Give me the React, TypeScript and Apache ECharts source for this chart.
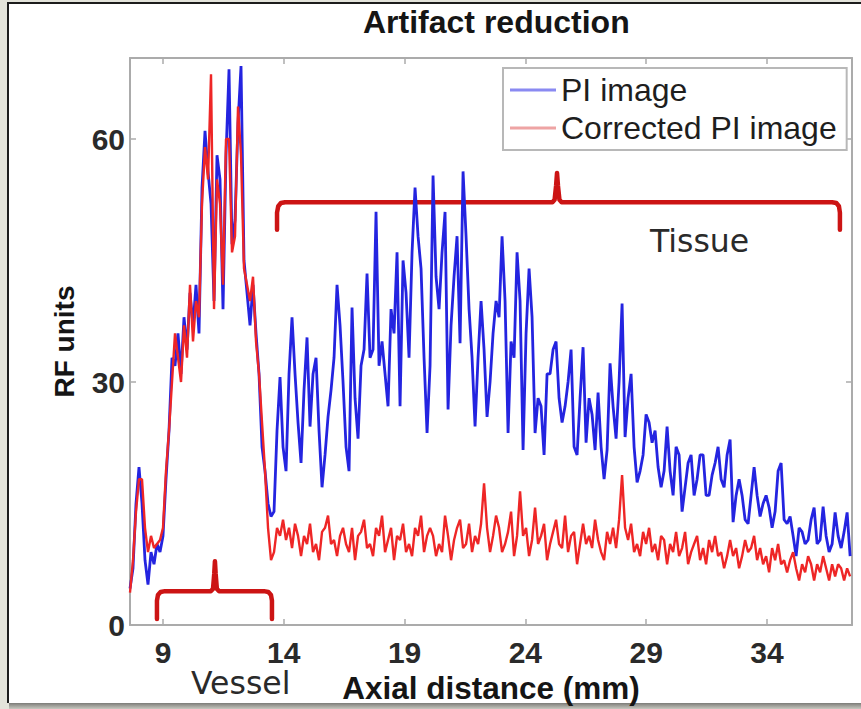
import React, { useEffect, useRef } from "react";
import * as echarts from "echarts";

const TITLE = "Artifact reduction";
const X_NAME = "Axial distance (mm)";
const Y_NAME = "RF units";
const SERIES_NAMES = ["PI image", "Corrected PI image"];
const X_TICKS = [9, 14, 19, 24, 29, 34];
const Y_TICKS = [0, 30, 60];
const X_MIN = 7.634;
const X_MAX = 37.52;
const Y_MIN = 0;
const Y_MAX = 70;

// uniform axial sampling of the traces (mm)
const SAMPLE_START_MM = 7.634;
const SAMPLE_STEP_MM = 0.1242;

const PI_IMAGE = [
  4.5, 7, 15, 19.5, 15, 8, 5, 9, 7.5, 10,
  9, 11, 18, 24, 33, 32, 36, 31, 38, 34,
  41, 37, 42, 36, 54, 61, 56, 52, 40, 58,
  55, 39, 58, 68.6, 47, 50, 62, 69, 45, 41,
  37, 42, 36, 31, 22, 19, 15, 13.4, 14, 24,
  30.6, 22, 19, 31, 38, 31, 25, 20, 29, 35.5,
  24.5, 31, 33, 24, 17, 21, 25.7, 29, 33, 42,
  37, 30, 22, 19, 39.2, 28, 23, 32, 34, 43.4,
  33, 34, 51, 32, 35, 31, 27, 39, 36, 46,
  27, 45, 41, 33, 46, 54, 48, 44, 33, 23.7,
  32, 55.5, 43, 39, 46, 51, 26.6, 37, 43, 48,
  34.8, 56, 48, 39, 33, 24.5, 33, 40, 34, 25.7,
  30, 36, 40, 38, 48, 40, 23.7, 35, 33, 46,
  40, 21.6, 36, 44, 38, 23.7, 28, 27, 21, 31,
  31, 34, 35, 28, 25, 27, 30, 34, 22, 21,
  28, 34.3, 22.5, 28, 26, 21.6, 28.7, 22, 18, 21.6,
  32.3, 27, 23, 30, 39.7, 23.2, 28, 31, 22, 17.6,
  19, 21, 26, 25, 22.5, 24, 19.5, 17, 19, 24.5,
  19, 16, 22, 21, 14, 17, 20, 21, 16, 18,
  21, 21, 16, 16, 18.5, 20, 22, 18, 17, 21,
  22.9, 12.7, 16, 18, 16, 13, 12.5, 16, 19.5, 16,
  13.4, 15, 16, 14.5, 12, 14, 19, 20, 13, 12.5,
  13.4, 11, 8.5, 12, 11.5, 10, 10.5, 13, 14.5, 10,
  10.5, 14.6, 11, 9, 10, 13.9, 11, 9.5, 11.5, 13.9, 8.5,
];

const CORRECTED_PI_IMAGE = [
  4, 8, 14, 18, 18, 12, 9, 11, 9.5, 10,
  10.5, 12, 19, 24, 30, 36, 33, 30, 37, 33,
  42, 35, 40, 38, 52, 59, 55, 68, 39, 55,
  52, 42, 60, 60, 46, 48, 64, 58, 44, 42,
  40, 43, 35, 31, 25, 19, 12, 8, 9, 12,
  11, 13, 10.5, 12, 9.5, 12.5, 11, 8.5, 11, 10,
  12.5, 9, 10, 8, 11.5, 12, 13.5, 10, 10.5, 8.5,
  11, 12, 10, 9, 12, 8, 11, 11.5, 13, 9.5,
  10, 8.5, 12, 11, 13.5, 9, 10.5, 12, 8, 11,
  10.5, 12.5, 9, 10, 8.5, 12, 11, 13.5, 9, 11,
  12, 11, 8.5, 10, 9, 13.5, 11, 8, 10.5, 12,
  13, 9.5, 10, 12.5, 9, 11, 10, 12.5, 17.5, 12,
  9, 11, 13.5, 12, 9, 10, 11.5, 14, 8.5, 11,
  16.5, 11, 12, 8.5, 10.5, 14.5, 10, 11, 12.5, 8,
  10, 11.5, 13, 10, 9.5, 13.5, 9, 11, 11.5, 7.5,
  10, 12.5, 10, 11, 9.5, 13, 10.5, 9, 8, 11.5,
  10, 12, 9.5, 13, 18.5, 12, 10.5, 12.5, 9, 10,
  8.5, 11.5, 10, 12, 9, 10, 8, 11, 10.5, 7.5,
  10, 9, 11.5, 8.5, 9.5, 11.5, 7.5, 9, 10, 11,
  8, 9.5, 7.5, 10.5, 9, 11, 8.5, 9, 7, 8.5,
  10.5, 8.5, 9.5, 7, 8.5, 10.5, 9, 9.5, 11, 8,
  9.5, 7.5, 8.5, 6.5, 9.5, 8, 10, 7.5, 8, 6.5,
  8, 9, 7, 5.5, 7.5, 6.5, 8.5, 7.5, 5.5, 7.5,
  6.5, 8.5, 7, 5.5, 7.5, 6, 7.5, 7, 5.5, 7, 6,
];

// annotation braces, in axis units [mm, RF units]
const VESSEL_BRACE = [
  [8.75, 0.74], [8.75, 3.0], [8.79, 3.7], [8.9, 4.08], [9.08, 4.18],
  [10.98, 4.18], [11.07, 4.45], [11.12, 6.3], [11.15, 7.87], [11.18, 6.3],
  [11.23, 4.45], [11.32, 4.18], [13.18, 4.18], [13.36, 4.08], [13.47, 3.7],
  [13.51, 3.0], [13.51, 0.74],
];
const TISSUE_BRACE = [
  [13.72, 48.8], [13.72, 50.9], [13.77, 51.7], [13.88, 52.1], [14.05, 52.2],
  [25.12, 52.2], [25.21, 52.5], [25.27, 54.2], [25.31, 55.8], [25.35, 54.2],
  [25.41, 52.5], [25.5, 52.2], [36.7, 52.2], [36.87, 52.1], [36.98, 51.7],
  [37.02, 50.9], [37.02, 48.8],
];
const VESSEL_LABEL = "Vessel";
const TISSUE_LABEL = "Tissue";

const SANS = "'Liberation Sans', Arial, Helvetica, sans-serif";
const HUMANIST = "'DejaVu Sans', Verdana, sans-serif";

function toPairs(values: number[]) {
  return values.map((v, i) => [SAMPLE_START_MM + i * SAMPLE_STEP_MM, v]);
}

export default function App() {
  const ref = useRef<HTMLDivElement>(null);

  useEffect(() => {
    if (!ref.current) return;
    const chart = echarts.init(ref.current, undefined, { renderer: "svg" });
    const axisGray = "#ababab";
    const baseX = {
      type: "value" as const,
      min: X_MIN,
      max: X_MAX,
      splitLine: { show: false },
      axisLine: { show: true, onZero: false, lineStyle: { color: axisGray, width: 2 } },
      axisTick: { show: true, inside: true, length: 6, customValues: X_TICKS, lineStyle: { color: axisGray, width: 1.5 } },
    };
    const baseY = {
      type: "value" as const,
      min: Y_MIN,
      max: Y_MAX,
      splitLine: { show: false },
      axisLine: { show: true, onZero: false, lineStyle: { color: axisGray, width: 2 } },
      axisTick: { show: true, inside: true, length: 6, customValues: Y_TICKS, lineStyle: { color: axisGray, width: 1.5 } },
    };
    chart.setOption({
      animation: false,
      backgroundColor: "transparent",
      title: {
        text: TITLE,
        left: 358,
        top: 1,
        textStyle: { fontFamily: SANS, fontWeight: "bold", fontSize: 32, color: "#151515" },
      },
      legend: {
        left: 503,
        top: 68,
        orient: "vertical",
        icon: "rect",
        itemWidth: 46,
        itemHeight: 3,
        itemGap: 6,
        padding: [6, 10, 6, 7],
        borderColor: "#b8b8b8",
        borderWidth: 2,
        backgroundColor: "#ffffff",
        textStyle: { fontFamily: SANS, fontSize: 32, color: "#1e1e1e" },
        data: [
          { name: SERIES_NAMES[0], itemStyle: { color: "#8a8af2" } },
          { name: SERIES_NAMES[1], itemStyle: { color: "#eea4a4" } },
        ],
      },
      grid: { left: 130, top: 58, width: 722, height: 567 },
      xAxis: [
        {
          ...baseX,
          position: "bottom",
          name: X_NAME,
          nameLocation: "middle",
          nameGap: 42,
          nameTextStyle: { fontFamily: SANS, fontWeight: "bold", fontSize: 31.5, color: "#151515" },
          axisLabel: {
            customValues: X_TICKS,
            margin: 12,
            fontFamily: SANS,
            fontWeight: "bold",
            fontSize: 30,
            color: "#2a2a2a",
          },
        },
        { ...baseX, position: "top", axisLabel: { show: false } },
      ],
      yAxis: [
        {
          ...baseY,
          position: "left",
          name: Y_NAME,
          nameLocation: "middle",
          nameRotate: 90,
          nameGap: 52,
          nameTextStyle: { fontFamily: SANS, fontWeight: "bold", fontSize: 28, color: "#151515" },
          axisLabel: {
            customValues: Y_TICKS,
            margin: 5,
            fontFamily: SANS,
            fontWeight: "bold",
            fontSize: 30,
            color: "#2a2a2a",
          },
        },
        { ...baseY, position: "right", axisLabel: { show: false } },
      ],
      graphic: [
        {
          type: "text",
          left: 191,
          top: 667,
          style: { text: VESSEL_LABEL, fontFamily: HUMANIST, fontSize: 31.5, fill: "#2a2a2a" },
        },
        {
          type: "text",
          left: 650,
          top: 225,
          style: { text: TISSUE_LABEL, fontFamily: HUMANIST, fontSize: 31.5, fill: "#2a2a2a" },
        },
      ],
      series: [
        {
          name: "vessel-brace",
          type: "line",
          data: VESSEL_BRACE,
          showSymbol: false,
          silent: true,
          lineStyle: { color: "#cc1414", width: 4.5, cap: "round", join: "round" },
          z: 1,
        },
        {
          name: "tissue-brace",
          type: "line",
          data: TISSUE_BRACE,
          showSymbol: false,
          silent: true,
          lineStyle: { color: "#cc1414", width: 4.5, cap: "round", join: "round" },
          z: 1,
        },
        {
          name: SERIES_NAMES[0],
          type: "line",
          data: toPairs(PI_IMAGE),
          showSymbol: false,
          color: "#2424e0",
          lineStyle: { color: "#2424e0", width: 2.8 },
          z: 2,
        },
        {
          name: SERIES_NAMES[1],
          type: "line",
          data: toPairs(CORRECTED_PI_IMAGE),
          showSymbol: false,
          color: "#ee2626",
          lineStyle: { color: "#ee2626", width: 2.4 },
          z: 3,
        },
      ],
    });
    return () => chart.dispose();
  }, []);

  return (
    <div
      style={{
        position: "fixed",
        left: 0,
        top: 0,
        width: 861,
        height: 709,
        background: "#e3e3da",
        overflow: "hidden",
      }}
    >
      <div
        style={{
          position: "absolute",
          left: 7,
          top: 2,
          width: 870,
          height: 701,
          boxSizing: "border-box",
          background: "#ffffff",
          borderLeft: "2px solid #1c1c1c",
          borderTop: "2px solid #1c1c1c",
        }}
      />
      <div
        style={{
          position: "absolute",
          left: 9,
          top: 703,
          width: 860,
          height: 6,
          background: "linear-gradient(#7c7c78, #c8c8c0)",
        }}
      />
      <div ref={ref} style={{ position: "absolute", left: 0, top: 0, width: 861, height: 709 }} />
    </div>
  );
}
